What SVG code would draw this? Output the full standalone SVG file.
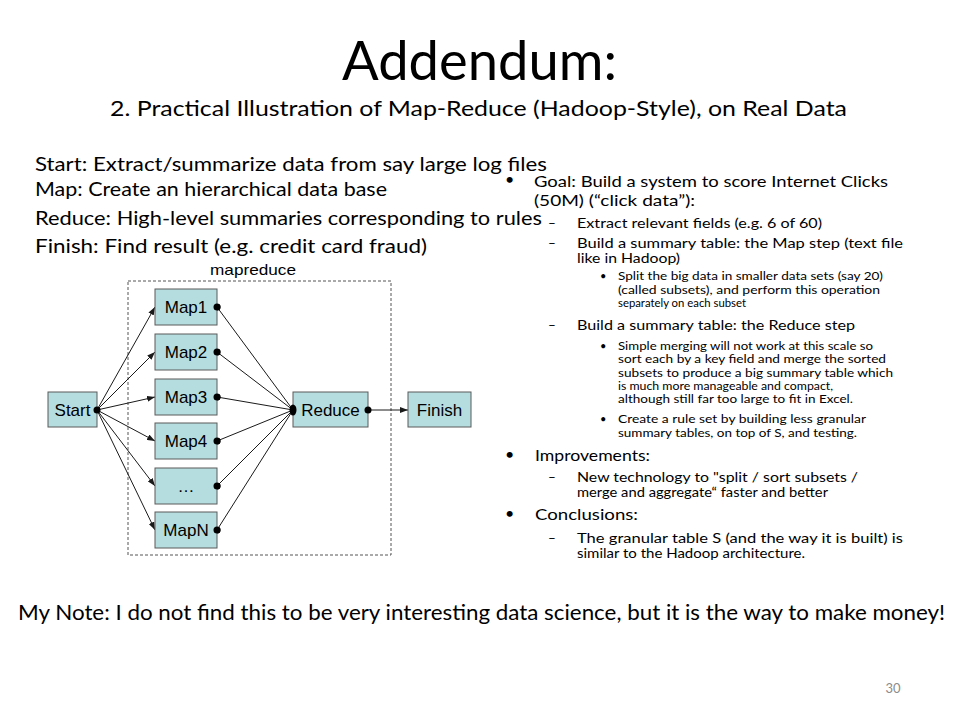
<svg xmlns="http://www.w3.org/2000/svg" width="960" height="720" viewBox="0 0 960 720">
<style>
.t{font-family:Lato,"Open Sans","Liberation Sans",sans-serif;fill:#000}
.title{font-size:54px}
.sub{font-size:22px}
.left{font-size:20px}
.l1{font-size:16px}
.l2{font-size:13.5px}
.l3{font-size:11px}
.note{font-size:21px}
.pg{font-size:13px;fill:#8c8c8c}
.box{fill:#b5dde0;stroke:#5a5a5a;stroke-width:1}
.lbl{font-family:"Liberation Sans",Arial,sans-serif;font-size:17px;fill:#000;text-anchor:middle}
.cap{font-family:"Liberation Sans",Arial,sans-serif;font-size:15px;fill:#000;text-anchor:middle}
.edge{fill:none;stroke:#1a1a1a;stroke-width:1}
.cont{fill:none;stroke:#555;stroke-width:1;stroke-dasharray:3 2}
</style>
<defs>
<marker id="arr" viewBox="0 0 8 6" refX="8" refY="3" markerWidth="8" markerHeight="6" markerUnits="userSpaceOnUse" orient="auto">
<path d="M0,0 L8,3 L0,6 z" fill="#1a1a1a"/>
</marker>
<marker id="dot" viewBox="0 0 8 8" refX="4" refY="4" markerWidth="7" markerHeight="7" markerUnits="userSpaceOnUse">
<circle cx="4" cy="4" r="4" fill="#000"/>
</marker>
</defs>
<rect width="960" height="720" fill="#fff"/>

<text class="t title" x="342" y="80" textLength="275" lengthAdjust="spacingAndGlyphs">Addendum:</text>
<text class="t sub" x="110" y="116" textLength="737" lengthAdjust="spacingAndGlyphs">2. Practical Illustration of Map-Reduce (Hadoop-Style), on Real Data</text>

<g id="left-text">
<text class="t left" x="35" y="171" textLength="512" lengthAdjust="spacingAndGlyphs">Start: Extract/summarize data from say large log files</text>
<text class="t left" x="35" y="196" textLength="352" lengthAdjust="spacingAndGlyphs">Map: Create an hierarchical data base</text>
<text class="t left" x="35" y="225" textLength="507" lengthAdjust="spacingAndGlyphs">Reduce: High-level summaries corresponding to rules</text>
<text class="t left" x="35" y="253" textLength="392" lengthAdjust="spacingAndGlyphs">Finish: Find result (e.g. credit card fraud)</text>
</g>

<g id="right-text">
<text class="t l1" x="505" y="185">•</text>
<text class="t l1" x="534" y="187" textLength="354" lengthAdjust="spacingAndGlyphs">Goal: Build a system to score Internet Clicks</text>
<text class="t l1" x="534" y="206" textLength="161" lengthAdjust="spacingAndGlyphs">(50M) (“click data”):</text>
<text class="t l2" x="548" y="228">–</text>
<text class="t l2" x="577" y="228" textLength="245" lengthAdjust="spacingAndGlyphs">Extract relevant fields (e.g. 6 of 60)</text>
<text class="t l2" x="548" y="248">–</text>
<text class="t l2" x="577" y="248" textLength="326" lengthAdjust="spacingAndGlyphs">Build a summary table: the Map step (text file</text>
<text class="t l2" x="577" y="263" textLength="103" lengthAdjust="spacingAndGlyphs">like in Hadoop)</text>
<text class="t l3" x="600" y="280">•</text>
<text class="t l3" x="618" y="280" textLength="265" lengthAdjust="spacingAndGlyphs">Split the big data in smaller data sets (say 20)</text>
<text class="t l3" x="618" y="294" textLength="262" lengthAdjust="spacingAndGlyphs">(called subsets), and perform this operation</text>
<text class="t l3" x="618" y="307" textLength="128" lengthAdjust="spacingAndGlyphs">separately on each subset</text>
<text class="t l2" x="548" y="330">–</text>
<text class="t l2" x="577" y="330" textLength="278" lengthAdjust="spacingAndGlyphs">Build a summary table: the Reduce step</text>
<text class="t l3" x="600" y="350">•</text>
<text class="t l3" x="618" y="350" textLength="255" lengthAdjust="spacingAndGlyphs">Simple merging will not work at this scale so</text>
<text class="t l3" x="618" y="363" textLength="268" lengthAdjust="spacingAndGlyphs">sort each by a key field and merge the sorted</text>
<text class="t l3" x="618" y="377" textLength="275" lengthAdjust="spacingAndGlyphs">subsets to produce a big summary table which</text>
<text class="t l3" x="618" y="390" textLength="215" lengthAdjust="spacingAndGlyphs">is much more manageable and compact,</text>
<text class="t l3" x="618" y="403" textLength="235" lengthAdjust="spacingAndGlyphs">although still far too large to fit in Excel.</text>
<text class="t l3" x="600" y="423">•</text>
<text class="t l3" x="618" y="423" textLength="248" lengthAdjust="spacingAndGlyphs">Create a rule set by building less granular</text>
<text class="t l3" x="618" y="437" textLength="239" lengthAdjust="spacingAndGlyphs">summary tables, on top of S, and testing.</text>
<text class="t l1" x="505" y="460">•</text>
<text class="t l1" x="535" y="461" textLength="115" lengthAdjust="spacingAndGlyphs">Improvements:</text>
<text class="t l2" x="548" y="482">–</text>
<text class="t l2" x="577" y="482" textLength="281" lengthAdjust="spacingAndGlyphs">New technology to "split / sort subsets /</text>
<text class="t l2" x="577" y="497" textLength="251" lengthAdjust="spacingAndGlyphs">merge and aggregate“ faster and better</text>
<text class="t l1" x="505" y="519">•</text>
<text class="t l1" x="535" y="520" textLength="103" lengthAdjust="spacingAndGlyphs">Conclusions:</text>
<text class="t l2" x="548" y="543">–</text>
<text class="t l2" x="577" y="543" textLength="326" lengthAdjust="spacingAndGlyphs">The granular table S (and the way it is built) is</text>
<text class="t l2" x="577" y="558" textLength="228" lengthAdjust="spacingAndGlyphs">similar to the Hadoop architecture.</text>
</g>

<g id="node-mapreduce">
<rect class="cont" x="128" y="281" width="263" height="274"/>
<text class="cap" x="253" y="275" textLength="86" lengthAdjust="spacingAndGlyphs">mapreduce</text>
</g>

<g id="connectors">
<line class="edge" x1="97" y1="410" x2="155" y2="307" marker-end="url(#arr)"/>
<line class="edge" x1="97" y1="410" x2="155" y2="352" marker-end="url(#arr)"/>
<line class="edge" x1="97" y1="410" x2="155" y2="397" marker-end="url(#arr)"/>
<line class="edge" x1="97" y1="410" x2="155" y2="441" marker-end="url(#arr)"/>
<line class="edge" x1="97" y1="410" x2="155" y2="486" marker-end="url(#arr)"/>
<line class="edge" x1="97" y1="410" x2="155" y2="530" marker-end="url(#arr)"/>
<line class="edge" x1="217" y1="307" x2="293" y2="410" marker-start="url(#dot)" marker-end="url(#dot)"/>
<line class="edge" x1="217" y1="352" x2="293" y2="410" marker-start="url(#dot)" marker-end="url(#dot)"/>
<line class="edge" x1="217" y1="397" x2="293" y2="410" marker-start="url(#dot)" marker-end="url(#dot)"/>
<line class="edge" x1="217" y1="441" x2="293" y2="410" marker-start="url(#dot)" marker-end="url(#dot)"/>
<line class="edge" x1="217" y1="486" x2="293" y2="410" marker-start="url(#dot)" marker-end="url(#dot)"/>
<line class="edge" x1="217" y1="530" x2="293" y2="410" marker-start="url(#dot)" marker-end="url(#dot)"/>
<line class="edge" x1="368" y1="410" x2="408" y2="410" marker-end="url(#arr)"/>
</g>

<g id="node-start"><rect class="box" x="48" y="392" width="49" height="35"/><text class="lbl" x="72.5" y="416">Start</text></g>
<g id="node-map1"><rect class="box" x="155" y="289" width="62" height="36"/><text class="lbl" x="186" y="313">Map1</text></g>
<g id="node-map2"><rect class="box" x="155" y="334" width="62" height="36"/><text class="lbl" x="186" y="358">Map2</text></g>
<g id="node-map3"><rect class="box" x="155" y="379" width="62" height="36"/><text class="lbl" x="186" y="403">Map3</text></g>
<g id="node-map4"><rect class="box" x="155" y="423" width="62" height="36"/><text class="lbl" x="186" y="447">Map4</text></g>
<g id="node-mapdots"><rect class="box" x="155" y="468" width="62" height="36"/><text class="lbl" x="186" y="492">…</text></g>
<g id="node-mapn"><rect class="box" x="155" y="512" width="62" height="36"/><text class="lbl" x="186" y="536">MapN</text></g>
<g id="node-reduce"><rect class="box" x="293" y="392" width="75" height="35"/><text class="lbl" x="330.5" y="416">Reduce</text></g>
<g id="node-finish"><rect class="box" x="408" y="392" width="63" height="35"/><text class="lbl" x="439.5" y="416">Finish</text></g>

<g id="dots-on-top">
<circle cx="97" cy="410" r="3.5" fill="#000"/>
<circle cx="217" cy="307" r="3.5" fill="#000"/>
<circle cx="217" cy="352" r="3.5" fill="#000"/>
<circle cx="217" cy="397" r="3.5" fill="#000"/>
<circle cx="217" cy="441" r="3.5" fill="#000"/>
<circle cx="217" cy="486" r="3.5" fill="#000"/>
<circle cx="217" cy="530" r="3.5" fill="#000"/>
<ellipse cx="293" cy="410" rx="3.5" ry="5.5" fill="#000"/>
<circle cx="368" cy="410" r="3.5" fill="#000"/>
</g>

<text class="t note" x="18" y="620" textLength="927" lengthAdjust="spacingAndGlyphs">My Note: I do not find this to be very interesting data science, but it is the way to make money!</text>
<text class="t pg" x="893" y="693" text-anchor="middle">30</text>
</svg>
